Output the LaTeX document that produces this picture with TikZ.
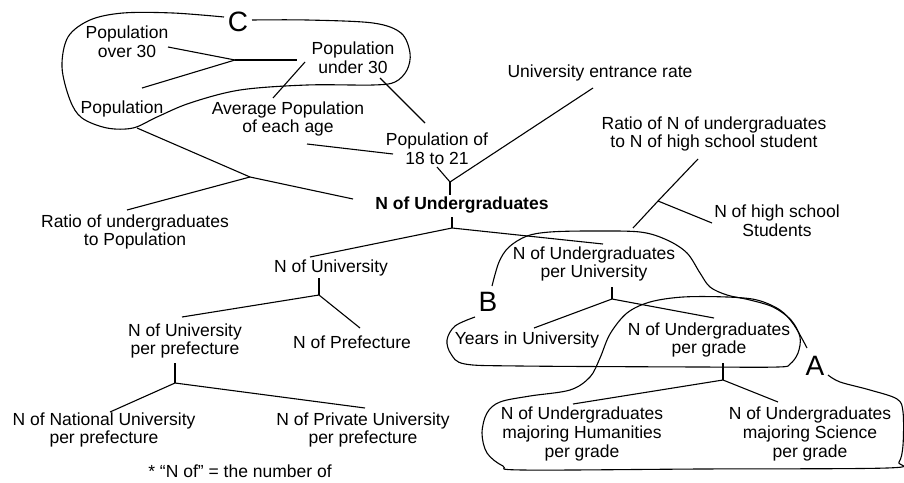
\documentclass[tikz,border=0pt]{standalone}
\usepackage{fontspec}
\setmainfont{Liberation Sans}
\begin{document}
\begin{tikzpicture}[x=1pt,y=-1pt,line width=1.1pt,
  lbl/.style={align=center,inner sep=0pt,font=\fontsize{17.5}{18.8}\selectfont},
  boldlbl/.style={align=center,inner sep=0pt,font=\fontsize{17.5}{18.8}\selectfont\bfseries},
  letter/.style={inner sep=0pt,font=\fontsize{28}{30}\selectfont},
  link/.style={line width=1.1pt},
  group/.style={line width=1.1pt}]
\useasboundingbox (0,0) rectangle (904,482);

% nodes
\node[lbl] (popover) at (127,42) {Population\\over 30};
\node[lbl] (popunder) at (353,58) {Population\\under 30};
\node[lbl] (population) at (122,109) {Population};
\node[lbl] (avgpop) at (288,119) {Average Population\\of each age};
\node[lbl] (pop1821) at (437,149) {Population of\\18 to 21};
\node[lbl] (entrance) at (600,73) {University entrance rate};
\node[lbl] (ratiohs) at (714,134) {Ratio of N of undergraduates\\to N of high school student};
\node[lbl] (highschool) at (777,221) {N of high school\\Students};
\node[boldlbl] (nug) at (462,205) {N of Undergraduates};
\node[lbl] (ratiopop) at (135,232) {Ratio of undergraduates\\to Population};
\node[lbl] (nuniv) at (331,268) {N of University};
\node[lbl] (nunivpref) at (185,341) {N of University\\per prefecture};
\node[lbl] (npref) at (352,342) {N of Prefecture};
\node[lbl] (nnational) at (104,430) {N of National University\\per prefecture};
\node[lbl] (nprivate) at (363,430) {N of Private University\\per prefecture};
\node[lbl] (note) at (240,471) {* “N of” = the number of};
\node[lbl] (nugpu) at (594,264) {N of Undergraduates\\per University};
\node[lbl] (years) at (527,340) {Years in University};
\node[lbl] (nugpg) at (709,340) {N of Undergraduates\\per grade};
\node[lbl] (human) at (582,434) {N of Undergraduates\\majoring Humanities\\per grade};
\node[lbl] (science) at (810,434) {N of Undergraduates\\majoring Science\\per grade};
\node[letter] (lC) at (238,22) {C};
\node[letter] (lB) at (488,302) {B};
\node[letter] (lA) at (815,366) {A};

% junctions
\coordinate (jPop) at (235,60);
\coordinate (jNugTop) at (450,182);
\coordinate (jRatio) at (250,177);
\coordinate (jHS) at (658,201);
\coordinate (jNugBot) at (452,228);
\coordinate (jUniv) at (319,295);
\coordinate (jPref) at (175,383);
\coordinate (jPU) at (612,299);
\coordinate (jPG) at (723,380);
\coordinate (bTop) at (633,228);

% connectors
\draw[link] ([shift={(41,5)}]popover.center) -- (jPop);
\draw[link] ([shift={(20,-21)}]population.center) -- (jPop);
\draw[link] (jPop) -- ([shift={(-56,2)}]popunder.center);
\draw[link] ([shift={(-48,4)}]popunder.center) -- ([shift={(-15,-21)}]avgpop.center);
\draw[link] ([shift={(27,20)}]popunder.center) -- ([shift={(-12,-26)}]pop1821.center);
\draw[link] ([shift={(19,25)}]avgpop.center) -- ([shift={(-44,5)}]pop1821.center);
\draw[link] ([shift={(0,18)}]pop1821.center) -- (jNugTop);
\draw[link] ([shift={(-7,15)}]entrance.center) -- (jNugTop);
\draw[link] (jNugTop) -- ([shift={(-12,-10)}]nug.center);
\draw[link] ([shift={(15,19)}]population.center) -- (jRatio);
\draw[link] (jRatio) -- ([shift={(-8,-22)}]ratiopop.center);
\draw[link] (jRatio) -- ([shift={(-109,-6)}]nug.center);
\draw[link] ([shift={(-10,12)}]nug.center) -- (jNugBot);
\draw[link] (jNugBot) -- ([shift={(-21,-11)}]nuniv.center);
\draw[link] (jNugBot) -- ([shift={(9,-20)}]nugpu.center);
\draw[link] ([shift={(-12,10)}]nuniv.center) -- (jUniv);
\draw[link] (jUniv) -- ([shift={(-3,-24)}]nunivpref.center);
\draw[link] (jUniv) -- ([shift={(8,-14)}]npref.center);
\draw[link] ([shift={(-10,22)}]nunivpref.center) -- (jPref);
\draw[link] (jPref) -- ([shift={(6,-18)}]nnational.center);
\draw[link] (jPref) -- ([shift={(2,-22)}]nprivate.center);
\draw[link] ([shift={(-16,25)}]ratiohs.center) -- (jHS);
\draw[link] (jHS) -- ([shift={(-65,2)}]highschool.center);
\draw[link] (jHS) -- (bTop);
\draw[link] ([shift={(18,23)}]nugpu.center) -- (jPU);
\draw[link] (jPU) -- ([shift={(7,-12)}]years.center);
\draw[link] (jPU) -- ([shift={(5,-22)}]nugpg.center);
\draw[link] ([shift={(14,23)}]nugpg.center) -- (jPG);
\draw[link] (jPG) -- ([shift={(-9,-30)}]human.center);
\draw[link] (jPG) -- ([shift={(-32,-32)}]science.center);

% group C
\draw[group] plot[smooth,tension=0.55] coordinates {(224,17) (173,13) (123,13) (90,20) (68,37) (62,67) (70,100) (82,118) (107,128) (133,128) (157,117) (190,103) (240,90) (307,85) (373,85) (395,82) (407,70) (410,53) (401,33) (373,23) (307,20) (252,20)};
% group B
\draw[group] plot[smooth,tension=0.55] coordinates {(475,317) (455,326) (447,340) (451,354) (465,364) (520,366) (700,367) (778,367) (790,364) (798,353) (800,337) (791,320) (773,307) (750,300) (727,295) (710,287) (700,273) (687,253) (667,240) (640,232) (590,231) (550,232) (527,236) (509,247) (499,262) (492,286)};
% group A
\draw[group] plot[smooth,tension=0.55] coordinates {(807,348) (794,325) (780,310) (757,300) (727,297) (683,297) (650,302) (627,313) (610,334) (600,358) (590,377) (570,390) (530,396) (500,402) (487,413) (482,433) (487,453) (503,466) (523,470) (700,469) (887,468) (899,462) (903,445) (903,412) (897,399) (870,390) (840,382) (828,375)};
\end{tikzpicture}
\end{document}
